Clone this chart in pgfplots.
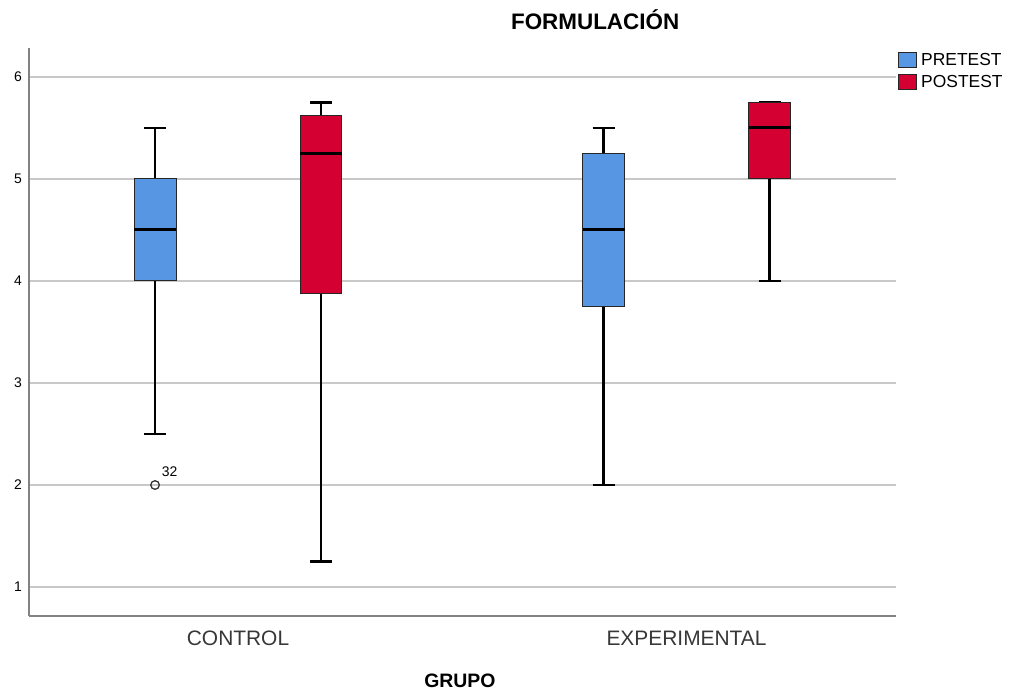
\documentclass[border=0pt]{standalone}
\usepackage{pgfplots}
\pgfplotsset{compat=1.18}
\usepgfplotslibrary{statistics}
\usepackage{fontspec}
\setmainfont{Liberation Sans}
\definecolor{spssblue}{RGB}{86,150,227}
\definecolor{spssred}{RGB}{212,0,50}
\definecolor{gridgray}{RGB}{200,200,200}
\definecolor{spinegray}{RGB}{130,130,130}
\definecolor{labgray}{RGB}{55,55,55}
\begin{document}
\begin{tikzpicture}
\path[use as bounding box] (0,0) rectangle (1009bp,691bp);
\begin{axis}[
  at={(29bp,75bp)}, anchor=south west,
  scale only axis, width=867bp, height=568bp,
  xmin=0.534, xmax=2.467, ymin=0.716, ymax=6.284,
  axis x line*=bottom, axis y line*=left,
  axis line style={-, draw=spinegray, line width=1.5bp},
  major tick length=0pt,
  ytick={1,2,3,4,5,6},
  ymajorgrids, grid style={draw=gridgray, line width=1.3bp},
  xtick={1,2}, xticklabels={CONTROL,EXPERIMENTAL},
  xticklabel style={font=\fontsize{21}{25}\selectfont, text=labgray, anchor=base, yshift=-29bp},
  yticklabel style={font=\fontsize{14}{17}\selectfont, text=black, xshift=-3.6bp},
  /pgf/number format/assume math mode=true,
  title={FORMULACIÓN},
  title style={font=\fontsize{22.5}{27}\selectfont\bfseries, at={(axis description cs:0.653,1)}, anchor=base, yshift=12.5bp},
  xlabel={GRUPO},
  xlabel style={font=\fontsize{19.5}{23}\selectfont\bfseries, at={(axis description cs:0.497,0)}, anchor=base, yshift=-71bp},
  legend style={at={(axis description cs:1.002,0.995)}, anchor=north west, draw=none, fill=none,
    font=\fontsize{17.5}{21}\selectfont, inner sep=0pt, row sep=3bp, column sep=2bp,
    nodes={inner sep=2.5bp}},
  legend cell align=left,
  legend image code/.code={\draw[#1] (0bp,-7.5bp) rectangle (18bp,7.5bp);},
  boxplot/draw direction=y,
  boxplot/box extend=0.0936,
  boxplot/whisker extend=0.049,
  boxplot/every median/.style={line width=3bp, draw=black},
  boxplot/every whisker/.style={line width=2.5bp, draw=black},
  boxplot/every box/.style={line width=1bp, draw=black!85},
  clip=false,
]
\addlegendimage{draw=black!85, line width=0.8bp, fill=spssblue}
\addlegendentry{PRETEST}
\addlegendimage{draw=black!85, line width=0.8bp, fill=spssred}
\addlegendentry{POSTEST}

% CONTROL PRETEST
\addplot[draw=black, fill=spssblue, boxplot prepared={draw position=0.815,
  lower whisker=2.5, lower quartile=4, median=4.5, upper quartile=5, upper whisker=5.5}]
  coordinates {};
% CONTROL POSTEST
\addplot[draw=black, fill=spssred, boxplot prepared={draw position=1.185,
  lower whisker=1.25, lower quartile=3.875, median=5.25, upper quartile=5.625, upper whisker=5.75}]
  coordinates {};
% EXPERIMENTAL PRETEST
\addplot[draw=black, fill=spssblue, boxplot prepared={draw position=1.815,
  lower whisker=2, lower quartile=3.75, median=4.5, upper quartile=5.25, upper whisker=5.5}]
  coordinates {};
% EXPERIMENTAL POSTEST
\addplot[draw=black, fill=spssred, boxplot prepared={draw position=2.185,
  lower whisker=4, lower quartile=5, median=5.5, upper quartile=5.75, upper whisker=5.75}]
  coordinates {};
% outlier
\addplot[only marks, mark=o, mark size=4.3bp, mark options={line width=1.3bp, draw=black!80}]
  coordinates {(0.815,2)};
\node[font=\fontsize{14}{16}\selectfont, anchor=base west, inner sep=0pt, xshift=6.7bp, yshift=8.3bp] at (axis cs:0.815,2) {32};
\end{axis}
\end{tikzpicture}
\end{document}
